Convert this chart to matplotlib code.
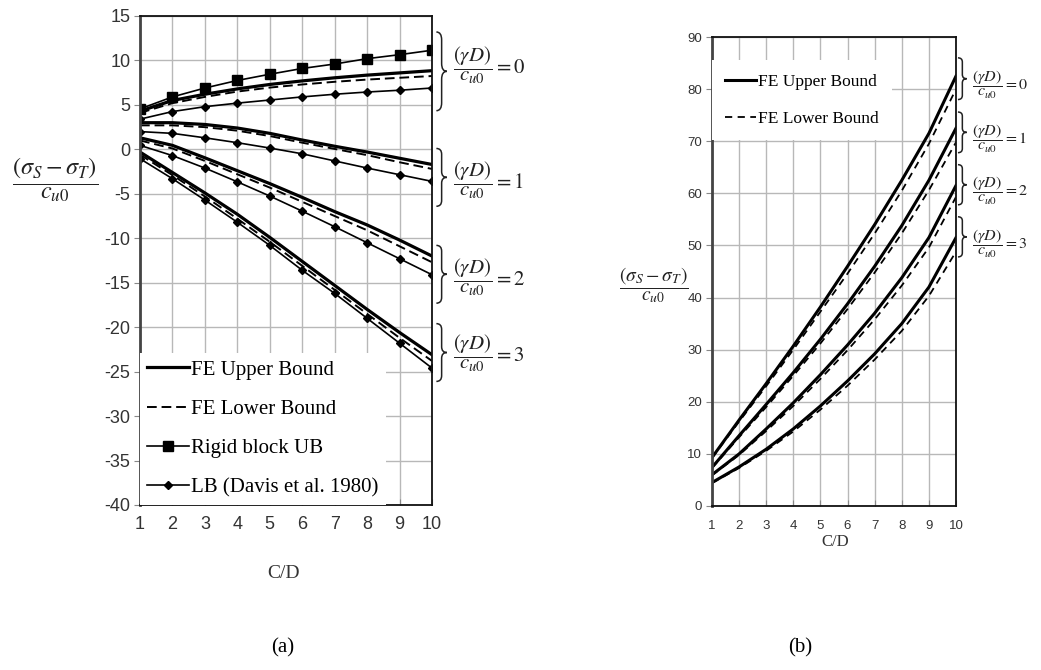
import matplotlib
matplotlib.use("Agg")
import matplotlib.pyplot as plt
from matplotlib.path import Path
from matplotlib.patches import PathPatch
from matplotlib.transforms import blended_transform_factory

plt.rcParams['mathtext.fontset'] = 'stix'
plt.rcParams['axes.unicode_minus'] = False
plt.rcParams['font.family'] = ['Liberation Sans', 'DejaVu Sans']

# ---- data ----
cd = [1, 2, 3, 4, 5, 6, 7, 8, 9, 10]
gamma_d = [0, 1, 2, 3]

# panel (a)
a_fe_upper = [
    [4.3, 5.5, 6.2, 6.8, 7.3, 7.7, 8.05, 8.35, 8.6, 8.85],
    [3.0, 3.0, 2.8, 2.4, 1.8, 1.05, 0.35, -0.3, -1.0, -1.7],
    [1.3, 0.45, -0.95, -2.4, -3.85, -5.4, -7.0, -8.5, -10.2, -12.0],
    [-0.3, -2.6, -4.9, -7.3, -9.9, -12.6, -15.3, -18.0, -20.6, -23.1],
]
a_fe_lower = [
    [4.1, 5.2, 5.9, 6.5, 6.95, 7.3, 7.6, 7.85, 8.05, 8.25],
    [2.7, 2.7, 2.5, 2.1, 1.5, 0.75, 0.05, -0.65, -1.45, -2.2],
    [1.0, 0.1, -1.3, -2.8, -4.3, -5.9, -7.5, -9.1, -10.9, -12.7],
    [-0.6, -2.9, -5.3, -7.8, -10.4, -13.1, -15.8, -18.5, -21.2, -23.8],
]
a_rigid_ub = [4.55, 5.9, 6.9, 7.75, 8.45, 9.1, 9.6, 10.2, 10.65, 11.15]
a_lb_davis = [
    [3.4, 4.25, 4.8, 5.2, 5.55, 5.9, 6.2, 6.45, 6.65, 6.9],
    [2.0, 1.8, 1.3, 0.75, 0.15, -0.5, -1.3, -2.1, -2.85, -3.6],
    [0.45, -0.7, -2.1, -3.65, -5.25, -6.95, -8.7, -10.5, -12.3, -14.1],
    [-1.05, -3.3, -5.7, -8.2, -10.8, -13.6, -16.2, -19.0, -21.8, -24.6],
]

# panel (b)
b_fe_upper = [
    [9.3, 16.5, 23.5, 30.7, 38.2, 46.0, 54.0, 62.5, 71.5, 82.5],
    [7.4, 13.5, 19.5, 25.6, 32.0, 38.8, 46.0, 53.8, 62.5, 72.5],
    [6.0, 10.0, 14.8, 19.8, 25.2, 30.9, 37.0, 43.8, 51.5, 61.5],
    [4.5, 7.5, 10.9, 14.8, 19.2, 24.0, 29.2, 35.0, 42.0, 51.5],
]
b_fe_lower = [
    [9.2, 16.2, 23.0, 30.0, 37.3, 44.6, 52.3, 60.5, 69.5, 80.0],
    [7.3, 13.2, 19.0, 25.0, 31.2, 37.8, 44.8, 52.3, 60.6, 69.8],
    [5.9, 9.8, 14.4, 19.2, 24.4, 29.9, 35.8, 42.3, 49.6, 59.3],
    [4.4, 7.3, 10.6, 14.3, 18.5, 23.1, 28.1, 33.6, 40.3, 48.8],
]

W, H = 1041, 670
fig = plt.figure(figsize=(W / 100, H / 100), dpi=100)


def fig_rect(x0, y0, x1, y1):
    return [x0 / W, 1 - y1 / H, (x1 - x0) / W, (y1 - y0) / H]


def brace(ax, y_top, y_bot, x0, w):
    # curly brace "}" just right of the axes
    tr = blended_transform_factory(ax.transAxes, ax.transData)
    xm, x1 = x0 + w * 0.5, x0 + w
    ym = (y_top + y_bot) / 2
    r = (y_top - y_bot) * 0.1
    verts = [(x0, y_top), (xm, y_top), (xm, y_top - r),
             (xm, ym + r), (xm, ym), (x1, ym),
             (xm, ym), (xm, ym - r),
             (xm, y_bot + r), (xm, y_bot), (x0, y_bot)]
    codes = [Path.MOVETO, Path.CURVE3, Path.CURVE3,
             Path.LINETO, Path.CURVE3, Path.CURVE3,
             Path.CURVE3, Path.CURVE3,
             Path.LINETO, Path.CURVE3, Path.CURVE3]
    ax.add_patch(PathPatch(Path(verts, codes), transform=tr, fill=False,
                           lw=1.1, color='#222222', clip_on=False))


def style_axes(ax, tick_size, left_lw):
    ax.grid(True, color='#b8b8b8', lw=1.0)
    ax.set_axisbelow(True)
    for s in ['top', 'right', 'bottom']:
        ax.spines[s].set_color('#111111')
        ax.spines[s].set_linewidth(1.3)
    ax.spines['left'].set_color('#444444')
    ax.spines['left'].set_linewidth(left_lw)
    ax.tick_params(axis='both', labelsize=tick_size, colors='#888888',
                   labelcolor='#333333', length=4, width=0.8)
    ax.tick_params(axis='x', direction='in', pad=8)
    ax.tick_params(axis='y', direction='out', pad=3)


# ---------------- panel (a) ----------------
ax1 = fig.add_axes(fig_rect(140, 16, 432, 505))
style_axes(ax1, 13, 2.0)
for i, g in enumerate(gamma_d):
    ax1.plot(cd, a_fe_upper[i], color='black', lw=2.3,
             label='FE Upper Bound' if i == 0 else None)
    ax1.plot(cd, a_fe_lower[i], color='black', lw=1.4, ls=(0, (5, 2.5)),
             label='FE Lower Bound' if i == 0 else None)
    if i == 0:
        ax1.plot(cd, a_rigid_ub, color='black', lw=1.2, marker='s', ms=6.5,
                 label='Rigid block UB')
    ax1.plot(cd, a_lb_davis[i], color='black', lw=1.2, marker='D', ms=4.5,
             label='LB (Davis et al. 1980)' if i == 0 else None)

ax1.set_xlim(1, 10)
ax1.set_ylim(-40, 15)
ax1.set_xticks(cd)
ax1.set_yticks(range(-40, 16, 5))
leg1 = ax1.legend(loc='lower left', borderaxespad=0, frameon=True,
                  fancybox=False, edgecolor='none', facecolor='white',
                  framealpha=1, handlelength=2.0, handletextpad=0.1,
                  labelspacing=0.95, borderpad=0.35,
                  prop={'family': 'Liberation Serif', 'size': 15})
leg1.set_zorder(5)

a_brace_spans = [(13.2, 4.35), (0.1, -6.4), (-10.8, -17.3), (-19.6, -26.1)]
a_label_px = [65, 180, 277, 353]
for g, (yt, yb), ypx in zip(gamma_d, a_brace_spans, a_label_px):
    brace(ax1, yt, yb, 1.015, 0.036)
    fig.text(453 / W, 1 - ypx / H,
             r'$\dfrac{(\gamma D)}{c_{u0}}=%d$' % g,
             fontsize=15, ha='left', va='center', color='#222222')

fig.text(55 / W, 1 - 180 / H, r'$\dfrac{(\sigma_S-\sigma_T)}{c_{u0}}$',
         fontsize=17.5, ha='center', va='center', color='#222222')
fig.text(283 / W, 1 - 574 / H, 'C/D', fontsize=14, ha='center', va='center',
         family='Liberation Serif', color='#333333')

# ---------------- panel (b) ----------------
ax2 = fig.add_axes(fig_rect(712, 37, 956, 506))
style_axes(ax2, 9.5, 2.0)
for i, g in enumerate(gamma_d):
    ax2.plot(cd, b_fe_upper[i], color='black', lw=2.2,
             label='FE Upper Bound' if i == 0 else None)
    ax2.plot(cd, b_fe_lower[i], color='black', lw=1.3, ls=(0, (4, 3)),
             label='FE Lower Bound' if i == 0 else None)
ax2.set_xlim(1, 10)
ax2.set_ylim(0, 90)
ax2.set_xticks(cd)
ax2.set_yticks(range(0, 91, 10))
ax2.tick_params(axis='x', pad=10)
leg2 = ax2.legend(loc='upper left', bbox_to_anchor=(0, 0.95),
                  borderaxespad=0, frameon=True, fancybox=False,
                  edgecolor='none', facecolor='white', framealpha=1,
                  handlelength=1.8, handletextpad=0.1, labelspacing=1.25,
                  borderpad=0.75,
                  prop={'family': 'Liberation Serif', 'size': 12.5})
leg2.set_zorder(5)

b_brace_spans = [(86.0, 78.0), (75.6, 67.8), (65.5, 57.8), (55.5, 47.8)]
for g, (yt, yb) in zip(gamma_d, b_brace_spans):
    brace(ax2, yt, yb, 1.008, 0.036)
    ym = (yt + yb) / 2
    ypx = ax2.transData.transform((1, ym))[1]
    fig.text(972 / W, ypx / H - 0.01,
             r'$\dfrac{(\gamma D)}{c_{u0}}=%d$' % g,
             fontsize=11.5, ha='left', va='center', color='#222222')

fig.text(654 / W, 1 - 285 / H, r'$\dfrac{(\sigma_S-\sigma_T)}{c_{u0}}$',
         fontsize=14, ha='center', va='center', color='#222222')
fig.text(835 / W, 1 - 542 / H, 'C/D', fontsize=12, ha='center', va='center',
         family='Liberation Serif', color='#333333')

# captions
fig.text(283 / W, 1 - 648 / H, '(a)', fontsize=15, ha='center', va='center',
         family='Liberation Serif')
fig.text(800 / W, 1 - 648 / H, '(b)', fontsize=15, ha='center', va='center',
         family='Liberation Serif')

fig.savefig('out.png', dpi=100)
